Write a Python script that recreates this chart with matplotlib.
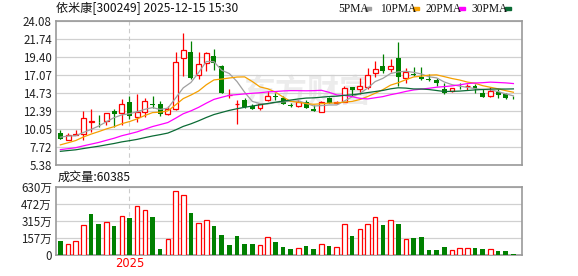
import matplotlib
matplotlib.use("Agg")
import matplotlib.pyplot as plt
import numpy as np
import pandas as pd

plt.rcParams["font.family"] = ["Noto Sans CJK SC", "DejaVu Sans"]

# weekly candles (60 weeks)
opens = [9.60, 8.66, 9.30, 9.43, 11.00, 10.99, 11.10, 12.38, 12.21, 13.57,
         11.65, 12.25, 13.30, 13.27, 12.08, 12.63, 19.30, 20.12, 17.04, 18.62,
         19.56, 18.28, 14.50, 13.30, 13.83, 13.10, 12.76, 13.79, 14.30, 14.04,
         13.15, 13.02, 13.62, 12.68, 12.33, 14.04, 13.50, 13.62, 15.50, 15.28,
         15.58, 17.29, 18.24, 17.81, 19.35, 16.70, 17.20, 16.82, 16.55, 16.44,
         15.28, 14.99, 15.65, 15.60, 15.71, 14.81, 14.39, 14.90, 14.56, 13.98]
closes = [8.74, 9.34, 9.40, 11.52, 11.05, 10.97, 12.12, 12.08, 13.27, 11.82,
          12.29, 13.66, 13.20, 12.08, 12.68, 18.79, 20.33, 16.70, 18.53, 19.90,
          18.66, 14.77, 14.55, 13.35, 12.89, 12.72, 13.32, 14.34, 14.25, 13.36,
          13.10, 13.53, 12.85, 12.46, 13.62, 13.49, 13.55, 15.46, 15.16, 15.71,
          17.04, 17.81, 17.55, 18.32, 16.78, 17.42, 17.10, 16.52, 16.50, 16.05,
          14.73, 15.37, 15.60, 15.65, 15.24, 14.26, 15.03, 14.51, 14.13, 13.96]
highs = [9.94, 9.60, 9.95, 12.42, 12.63, 11.90, 12.20, 12.63, 14.00, 14.34,
         14.56, 14.04, 14.34, 13.66, 13.02, 20.07, 22.55, 21.53, 20.07, 20.07,
         20.54, 18.41, 15.24, 13.83, 14.04, 13.36, 13.45, 15.07, 14.77, 14.30,
         13.45, 13.79, 13.79, 13.15, 13.74, 14.21, 13.70, 15.71, 15.50, 16.65,
         17.98, 18.92, 19.78, 19.22, 21.40, 17.94, 18.07, 18.07, 17.20, 16.65,
         16.01, 15.46, 16.05, 15.97, 15.93, 15.33, 15.54, 15.28, 14.81, 14.30]
lows = [8.74, 8.57, 9.25, 8.66, 9.73, 10.37, 10.54, 10.37, 10.54, 11.31,
        10.97, 11.61, 12.85, 11.78, 11.95, 12.55, 16.95, 16.60, 16.52, 17.55,
        17.68, 14.77, 14.09, 10.67, 12.85, 12.63, 12.59, 13.70, 13.87, 13.27,
        12.93, 12.93, 12.80, 12.42, 12.25, 13.45, 13.27, 13.53, 14.34, 14.56,
        15.33, 16.78, 17.29, 17.42, 15.67, 16.10, 16.91, 16.39, 16.27, 15.71,
        14.60, 14.90, 15.24, 15.11, 14.73, 14.21, 14.21, 14.13, 13.96, 13.96]
# volume in 万 shares
volumes = [131, 101, 128, 275, 379, 287, 303, 269, 358, 342,
           450, 413, 349, 58, 147, 587, 550, 388, 294, 321,
           269, 187, 95, 177, 104, 104, 92, 165, 122, 76,
           58, 67, 86, 58, 101, 86, 73, 284, 177, 239,
           284, 349, 278, 321, 287, 147, 159, 168, 49, 49,
           76, 49, 64, 64, 67, 58, 58, 40, 40, 12]
# earlier weekly closes, estimated from where the MA lines start
prev_closes = [6.3, 6.5, 6.6, 6.4, 6.5, 6.7, 6.9, 7.0, 7.1, 7.2,
               6.9, 6.8, 6.7, 6.6, 6.5, 6.6, 6.7, 6.8, 6.9, 7.1,
               6.6, 6.5, 6.9, 7.3, 7.7, 8.6, 9.2, 9.4, 9.06]

price_ticks = [5.38, 7.72, 10.05, 12.39, 14.73, 17.07, 19.40, 21.74, 24.08]
vol_ticks = [0, 157, 315, 472, 630]
vol_labels = ["0", "157万", "315万", "472万", "630万"]
year_idx = 9

RED = "#ff0000"
GREEN = "#008000"
ma_colors = {5: "#a0a0a0", 10: "#f5a000", 20: "#ff00ff", 30: "#0b6b35"}

n = len(closes)
x = np.arange(n)
allc = pd.Series(prev_closes + closes)
mas = {k: allc.rolling(k).mean().values[len(prev_closes):] for k in ma_colors}
prevc = np.array([prev_closes[-1]] + closes[:-1])

fig = plt.figure(figsize=(5.78, 2.76), dpi=100)
ax = fig.add_axes([56 / 578, 1 - 165 / 276, 466 / 578, 143.7 / 276])
axv = fig.add_axes([56 / 578, 1 - 255.3 / 276, 466 / 578, 68.6 / 276])

for a in (ax, axv):
    a.set_xlim(-0.57, n + 0.12)
    for s in a.spines.values():
        s.set_color("#999999")
        s.set_linewidth(1.2)
    a.tick_params(length=0, labelsize=8.3, colors="#222222", pad=3)
    a.set_xticks([])
    a.axvline(year_idx, color="#cccccc", lw=0.8, ls=(0, (4, 3)), zorder=1)

# watermark
ax.text(0.54, 0.50, "东方财富", transform=ax.transAxes, fontsize=23,
        fontweight="bold", color="#ececec", ha="center", va="center", zorder=0)

ax.set_ylim(price_ticks[0], price_ticks[-1])
ax.set_yticks(price_ticks)
ax.set_yticklabels([f"{t:.2f}" for t in price_ticks])
ax.grid(axis="y", color="#d0d0d0", lw=0.9)
ax.set_axisbelow(True)

w = 0.64
for i in range(n):
    o, c, h, l = opens[i], closes[i], highs[i], lows[i]
    up = c >= o
    col = RED if up else GREEN
    ax.vlines(i, l, max(o, c), color=col, lw=0.9, zorder=3)
    ax.vlines(i, min(o, c), h, color=col, lw=0.9, zorder=3)
    body = max(abs(c - o), 0.04)
    if up:
        ax.bar(i, body, bottom=min(o, c), width=w, facecolor="white",
               edgecolor=col, linewidth=0.9, zorder=4)
    else:
        ax.bar(i, body, bottom=min(o, c), width=w, color=col, zorder=4)

for k, col in ma_colors.items():
    ax.plot(x, mas[k], color=col, lw=0.9, zorder=5)

axv.set_ylim(0, 630)
axv.set_yticks(vol_ticks)
axv.set_yticklabels(vol_labels)
axv.grid(axis="y", color="#d0d0d0", lw=0.9)
axv.set_axisbelow(True)
for i in range(n):
    if closes[i] >= prevc[i]:
        axv.bar(i, volumes[i], width=0.6, facecolor="white", edgecolor=RED,
                linewidth=0.9, zorder=3)
    else:
        axv.bar(i, volumes[i], width=0.6, color=GREEN, zorder=3)

axv.text(year_idx, -14, "2025", color=RED, fontsize=8.3, ha="center",
         va="top", family=["DejaVu Sans"])

fig.text(56 / 578, 1 - 8.5 / 276, "依米康[300249] 2025-12-15 15:30",
         fontsize=8.7, va="center", ha="left", color="#111111")
fig.text(58 / 578, 1 - 177.5 / 276, "成交量:60385", fontsize=8.7,
         va="center", ha="left", color="#111111")

legend_items = [("5PMA", 338, 367.7, 5), ("10PMA", 380, 415.7, 10),
                ("20PMA", 425.7, 461.7, 20), ("30PMA", 471.7, 507.7, 30)]
for label, tx, dx, k in legend_items:
    fig.text(tx / 578, 1 - 8.5 / 276, label, fontsize=8.3, va="center",
             ha="left", family=["Liberation Serif"], color="#111111")
    fig.patches.append(plt.Rectangle(((dx - 2.5) / 578, 1 - 10 / 276),
                                     6 / 578, 3 / 276, color=ma_colors[k],
                                     transform=fig.transFigure, figure=fig))

fig.savefig("out.png", dpi=100)
